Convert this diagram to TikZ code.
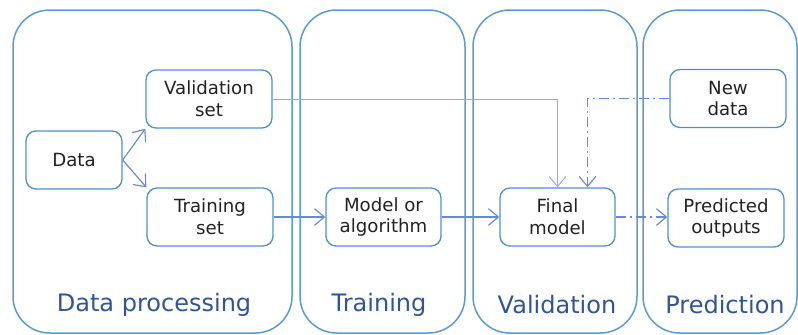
\documentclass[tikz,border=0pt]{standalone}
\usepackage{fontspec}
\setmainfont{DejaVu Sans}
\usepackage{tikz}
\usetikzlibrary{arrows.meta}
\usetikzlibrary{calc}

\definecolor{panelc}{RGB}{91,155,213}
\definecolor{boxc}{RGB}{79,145,205}
\definecolor{arrowc}{RGB}{100,138,218}
\definecolor{lightc}{RGB}{140,172,232}
\definecolor{labelc}{RGB}{47,85,151}
\definecolor{textc}{RGB}{34,34,34}

\begin{document}
\begin{tikzpicture}[x=0.3mm,y=-0.3mm,
	panel/.style={draw=panelc, line width=0.45mm, rounded corners=11mm},
	box/.style={draw=boxc, line width=0.4mm, rounded corners=3mm, align=center,
		minimum height=17.4mm, text=textc, font=\fontsize{15.5}{18.5}\selectfont},
	phase/.style={text=labelc, font=\fontsize{20.5}{24}\selectfont},
	link/.style={draw=arrowc, line width=0.35mm, -{Straight Barb[length=3mm,width=5mm]}},
	dashdot/.style={dash pattern=on 3mm off 1.2mm on 0.6mm off 1.2mm}]
\useasboundingbox (0,0) rectangle (798,335);

% panels
\draw [panel] (13,10) rectangle (292,333);
\draw [panel] (300,10) rectangle (465,333);
\draw [panel] (473,10) rectangle (637,333);
\draw [panel] (643,10) rectangle (797,333);

\node [phase] (procl) at (154,305) {Data processing};
\node [phase] (trainl) at (379,305) {Training};
\node [phase] (validl) at (557,305) {Validation};
\node [phase] (predl) at (725,305) {Prediction};

% boxes
\node [box, minimum width=28.8mm] (data) at (74,160) {Data};
\node [box, minimum width=37.8mm] (valset) at (209,99) {Validation\\set};
\node [box, minimum width=37.8mm] (trainset) at (210,217) {Training\\set};
\node [box, minimum width=34.5mm] (model) at (383.5,217) {Model or\\algorithm};
\node [box, minimum width=34.5mm] (final) at (557.5,217) {Final\\model};
\node [box, minimum width=34.8mm] (newdata) at (728,98.5) {New\\data};
\node [box, minimum width=34.8mm] (pred) at (726,218) {Predicted\\outputs};

% connectors
\draw [link] (data.east) to (valset.south west);
\draw [link] (data.east) to (trainset.north west);
\draw [link] (trainset.east) to (model.west);
\draw [link] (model.east) to (final.west);
\draw [link, draw=lightc, line width=0.3mm] (valset.east) -| (final.north);
\draw [link, dashdot] (newdata.west) -| ([xshift=9mm]final.north);
\draw [link, dashdot] (final.east) to (final.east -| pred.west);

\end{tikzpicture}
\end{document}
